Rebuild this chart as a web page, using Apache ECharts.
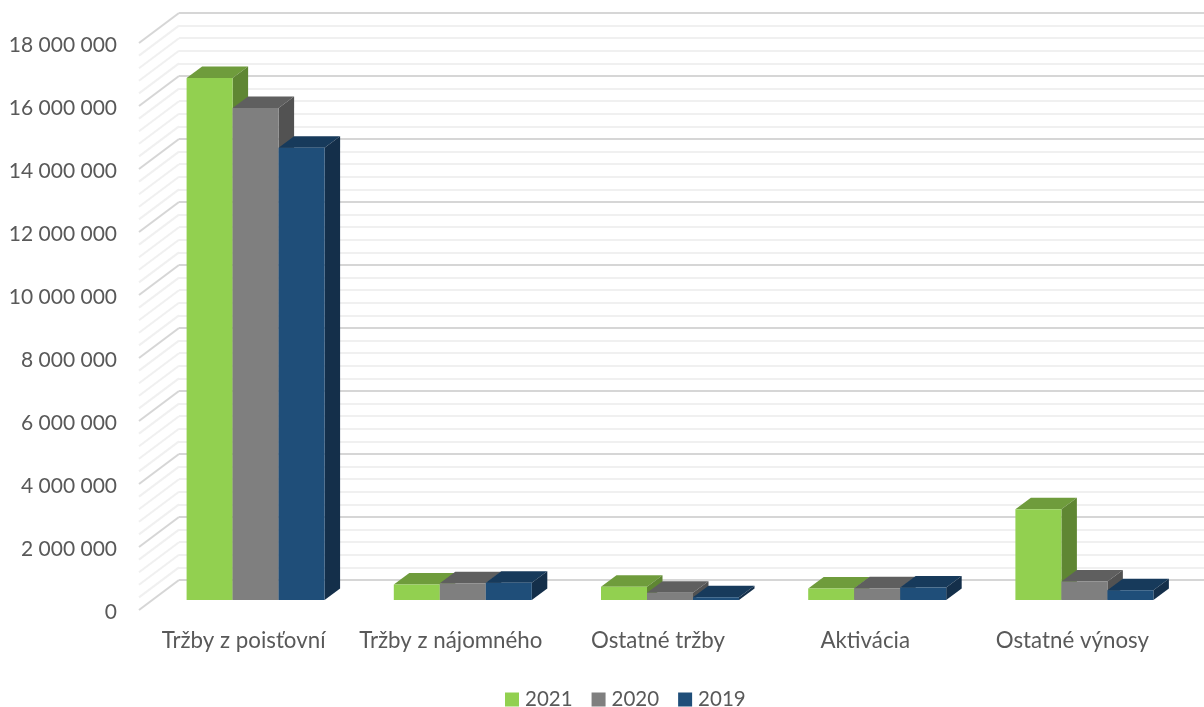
<!DOCTYPE html>
<html><head><meta charset="utf-8">
<style>html,body{margin:0;padding:0;background:#fff}#c{width:1204px;height:707px}</style>
<script src="https://cdn.jsdelivr.net/npm/echarts@6/dist/echarts.min.js"></script>
</head><body><div id="c"></div>
<script>
const categories = ['Tržby z poisťovní','Tržby z nájomného','Ostatné tržby','Aktivácia','Ostatné výnosy'];
const values2021 = [16570000,490000,423000,365000,2880000];
const values2020 = [15620000,530000,232000,370000,590000];
const values2019 = [14360000,550000,90000,400000,310000];
const tickValues = [0,400000,800000,1200000,1600000,2000000,2400000,2800000,3200000,3600000,4000000,4400000,4800000,5200000,5600000,6000000,6400000,6800000,7200000,7600000,8000000,8400000,8800000,9200000,9600000,10000000,10400000,10800000,11200000,11600000,12000000,12400000,12800000,13200000,13600000,14000000,14400000,14800000,15200000,15600000,16000000,16400000,16800000,17200000,17600000,18000000];

const fmt = v => String(v).replace(/\B(?=(\d{3})+(?!\d))/g,' ');
const FONT = 'Lato';
const DX = 15.5, DY = 11.5, BARW = 46, WALL_DX = 40, WALL_DY = 30;
const MAJOR = '#D6D6D6', MINOR = '#F0F0F0';

const seriesDefs = [
 {name:'2021',data:values2021,front:'#92D050',top:'#6F9C3C',side:'#5F8633',idx:-1},
 {name:'2020',data:values2020,front:'#7F7F7F',top:'#5F5F5F',side:'#525252',idx:0},
 {name:'2019',data:values2019,front:'#1F4E79',top:'#173A5B',side:'#142F4A',idx:1}
];

function barRender(def){
  return function(params,api){
    const p = api.coord([api.value(0),api.value(1)]);
    const b = api.coord([api.value(0),0]);
    const x0 = p[0]+def.idx*BARW-BARW/2, x1 = x0+BARW, yt = p[1], yb = b[1];
    return {type:'group',children:[
      {type:'polygon',shape:{points:[[x0,yt],[x1,yt],[x1+DX,yt-DY],[x0+DX,yt-DY]]},style:{fill:def.top}},
      {type:'polygon',shape:{points:[[x1,yt],[x1+DX,yt-DY],[x1+DX,yb-DY],[x1,yb]]},style:{fill:def.side}},
      {type:'rect',shape:{x:x0,y:yt,width:BARW,height:yb-yt},style:{fill:def.front}}
    ]};
  };
}
const axisBase = {min:0,max:18000000,interval:2000000};
const option = {
  animation:false,
  backgroundColor:'#fff',
  textStyle:{fontFamily:FONT},
  grid:[
    {id:'labels',left:140,top:45,width:1036,height:567},
    {id:'wall',left:179,top:13,width:1025,height:567},
    {id:'bars',left:152,top:33,width:1036,height:567}
  ],
  xAxis:[
    {gridIndex:0,type:'category',data:categories,axisLine:{show:false},axisTick:{show:false},
     axisLabel:{color:'#595959',fontSize:22.3,fontFamily:FONT,margin:18,interval:0,hideOverlap:false}},
    {gridIndex:1,type:'category',data:categories,show:false},
    {gridIndex:2,type:'category',data:categories,show:false}
  ],
  yAxis:[
    Object.assign({gridIndex:0,type:'value',axisLine:{show:false},axisTick:{show:false},splitLine:{show:false},
      axisLabel:{color:'#595959',fontSize:21,fontFamily:FONT,margin:23,formatter:fmt}},axisBase),
    Object.assign({gridIndex:1,type:'value',axisLine:{show:false},axisTick:{show:false},axisLabel:{show:false},
      minorTick:{show:false,splitNumber:5},
      splitLine:{show:true,lineStyle:{color:MAJOR,width:2}},
      minorSplitLine:{show:true,lineStyle:{color:MINOR,width:2}}},axisBase),
    Object.assign({gridIndex:2,type:'value',show:false},axisBase)
  ],
  legend:{left:505,top:689,padding:0,itemWidth:14,itemHeight:14,itemGap:19,icon:'rect',
    textStyle:{color:'#595959',fontSize:20.5,fontFamily:FONT,padding:[0,0,0,1]},
    data:seriesDefs.map(d=>d.name)},
  series:[
    {type:'custom',name:'wallDiagonals',xAxisIndex:1,yAxisIndex:1,silent:true,clip:false,z:1,
     coordinateSystem:'cartesian2d',
     data:tickValues.map(v=>[0,v]),encode:{x:0,y:1},
     renderItem(params,api){
       const v = api.value(1);
       const y = api.coord([0,v])[1];
       const major = v % 2000000 === 0;
       return {type:'line',shape:{x1:179-WALL_DX,y1:y+WALL_DY,x2:179,y2:y},
         style:{stroke:major?MAJOR:MINOR,lineWidth:2,fill:null}};
     }},
    ...seriesDefs.map(def=>({
      type:'custom',name:def.name,xAxisIndex:2,yAxisIndex:2,z:5,clip:false,
      itemStyle:{color:def.front},
      data:def.data.map((v,i)=>[i,v]),encode:{x:0,y:1},
      renderItem:barRender(def)
    }))
  ]
};
const chart = echarts.init(document.getElementById('c'),null,{renderer:'canvas'});
chart.setOption(option);
</script></body></html>
